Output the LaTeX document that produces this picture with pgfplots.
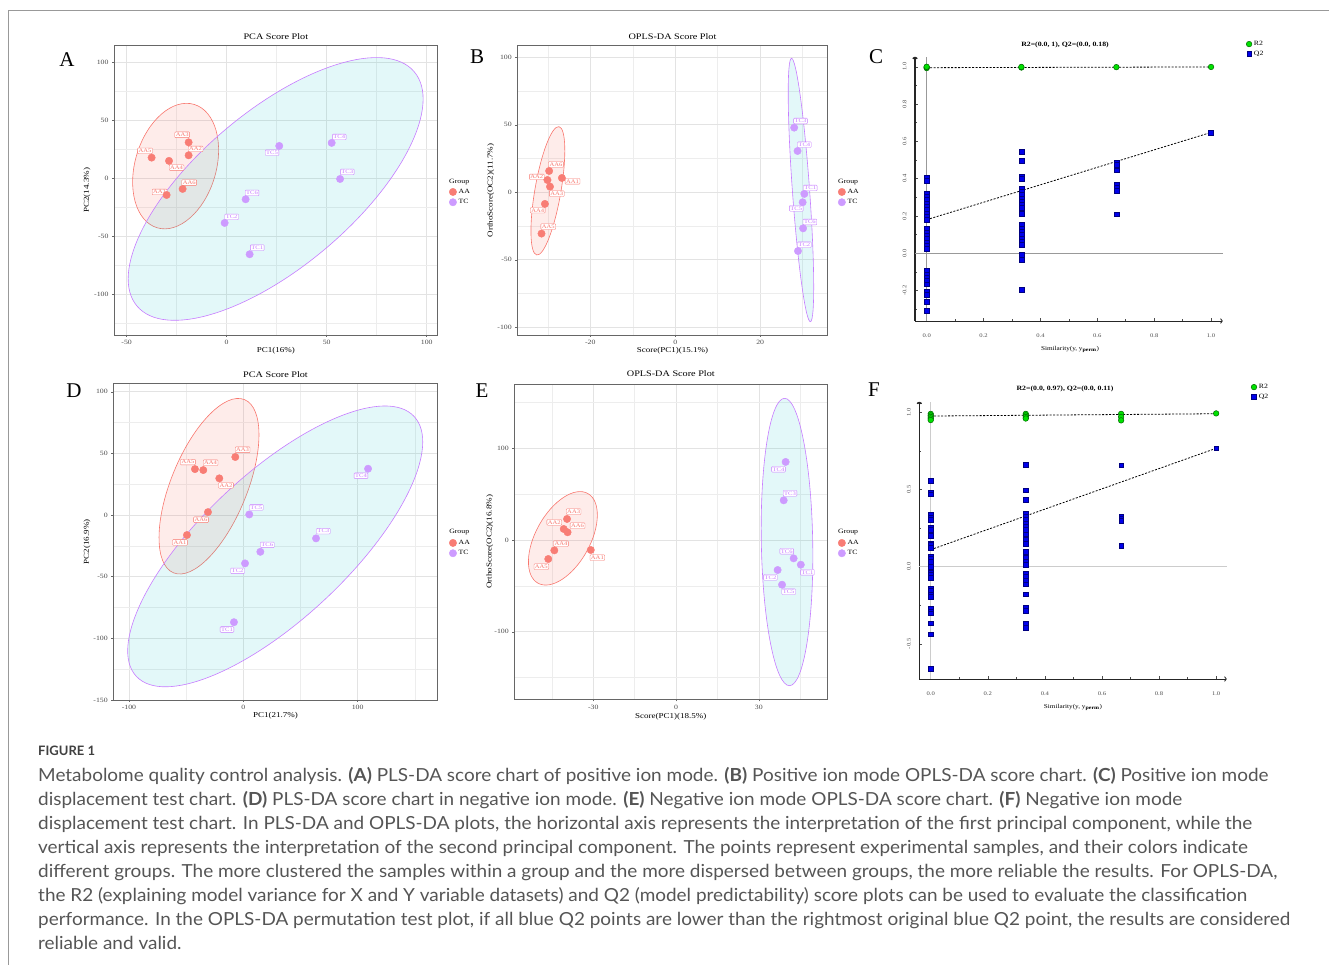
\documentclass[border=0pt]{standalone}
\usepackage{fontspec}
\setmainfont{Liberation Serif}[FakeStretch=1.2]
\newfontfamily\letterfont{Liberation Serif}
\newfontfamily\capfont{Lato}
\usepackage{graphicx}
\usepackage{pgfplots}
\pgfplotsset{compat=1.18}
\usetikzlibrary{shapes.geometric, arrows.meta}

\definecolor{aapt}{RGB}{248,125,117}
\definecolor{tcpt}{RGB}{205,155,255}
\definecolor{aaline}{RGB}{248,118,109}
\definecolor{tcline}{RGB}{199,124,255}
\definecolor{tcfill}{RGB}{0,191,196}
\definecolor{capgray}{RGB}{85,85,85}
\definecolor{capdark}{RGB}{64,64,64}
\definecolor{r2green}{RGB}{0,225,0}
\definecolor{q2blue}{RGB}{0,0,235}

\tikzset{
  lab/.style={draw=#1, text=#1, fill=white, rounded corners=0.8pt, inner sep=1pt,
    line width=0.35pt, font=\fontsize{5.5}{5.5}\selectfont},
  ell/.style n args={3}{ellipse, draw=#1, line width=0.6pt, fill=#2, fill opacity=#3,
    draw opacity=1, inner sep=0pt},
}

\pgfplotsset{
  score/.style={
    scale only axis, clip=false,
    axis line style={black!60, line width=0.9pt},
    tick pos=left, tick align=outside, major tick length=2pt, minor tick length=0pt,
    every tick/.style={black!60, line width=0.5pt},
    grid=both,
    major grid style={black!11, line width=0.7pt},
    minor grid style={black!7, line width=0.5pt},
    tick label style={font=\fontsize{6.5}{7}\selectfont, text=black!70},
    /pgf/number format/assume math mode=true,
    label style={font=\fontsize{7.5}{8}\selectfont, anchor=center},
    title style={font=\fontsize{8.5}{9}\selectfont, anchor=center, yshift=-6pt},
    legend style={draw=none, fill=none, anchor=north west, font=\fontsize{6.5}{7}\selectfont,
      inner sep=0pt, row sep=0.5pt, cells={anchor=west}},
    legend image code/.code={\draw[mark repeat=1,#1] plot coordinates {(3pt,0pt)};},
    aa/.style={only marks, mark=*, mark size=3.7pt, color=aapt},
    tc/.style={only marks, mark=*, mark size=3.7pt, color=tcpt},
  },
  perm/.style={
    scale only axis, clip=false,
    axis lines=left,
    x axis line style={black!85, line width=0.9pt, -{To[length=2.5pt]}},
    y axis line style={black!85, line width=1.6pt, -{To[length=2.5pt]}},
    tick align=inside, major tick length=2.5pt, minor tick length=1.5pt,
    every tick/.style={black!70, line width=0.5pt},
    tick label style={font=\fontsize{5.5}{6}\selectfont, text=black!70},
    /pgf/number format/assume math mode=true,
    /pgf/number format/.cd, fixed, fixed zerofill, precision=1, /pgfplots/.cd,
    xticklabel style={yshift=-9pt},
    yticklabel style={rotate=90, anchor=south, yshift=5pt},
    label style={font=\fontsize{6}{7}\selectfont, anchor=center},
    title style={font=\fontsize{6.5}{7}\selectfont\bfseries, anchor=center, yshift=-6pt},
    legend style={draw=none, fill=none, anchor=north west, font=\fontsize{6.5}{7}\selectfont,
      inner sep=0pt, row sep=0pt, cells={anchor=west}},
    legend image code/.code={\draw[mark repeat=1,#1] plot coordinates {(3pt,0pt)};},
    r2/.style={only marks, mark=*, mark size=2.8pt,
      mark options={fill=r2green, draw=black!60!green, line width=0.5pt}},
    q2/.style={only marks, mark=square*, mark size=2.4pt,
      mark options={fill=q2blue, draw=black!50!blue, line width=0.4pt}},
    reg/.style={black, line width=0.8pt, dash pattern=on 2pt off 1.5pt, forget plot},
  },
}

\newsavebox\capbox
\newcommand\capfmt{\capfont\fontsize{18}{24}\selectfont\color{capgray}}
\newcommand\capline[1]{\scalebox{\capsx}[1]{\capfmt #1}}

\begin{document}%
\sbox\capbox{\capfmt performance. In the OPLS-DA permutation test plot, if all blue Q2 points are lower than the rightmost original blue Q2 point, the results are considered}%
\pgfmathsetmacro\capsx{1252/\the\wd\capbox}%
\begin{tikzpicture}[x=1pt,y=1pt]
\useasboundingbox (0pt,0pt) rectangle (1329pt,965pt);
\draw[black!40, line width=0.8pt] (8pt,0pt) -- (8pt,955pt) -- (1329pt,955pt);

% ---------- A ----------
\begin{axis}[score, at={(114pt,630pt)}, anchor=south west, width=323.7pt, height=289.3pt,
  xmin=-56.3, xmax=105.5, ymin=-135.1, ymax=114.3,
  xtick={-50,0,50,100}, minor xtick={-25,25,75},
  ytick={-100,-50,0,50,100}, minor ytick={-125,-75,-25,25,75},
  title={PCA Score Plot}, title style={at={(0.5,1.030)}},
  xlabel={PC1(16\%)}, xlabel style={at={(0.5,-0.055)}},
  ylabel={PC2(14.3\%)}, ylabel style={at={(-0.083,0.5)}},
  legend style={at={(1.035,0.512)}}]
\addplot[aa] coordinates {(-37.5,17.8)(-28.8,15)(-19,31)(-19,19.8)(-22,-9.2)(-30,-14.4)};
\addplot[tc] coordinates {(26.3,27.9)(52.5,30.5)(56.7,-0.6)(9.5,-18.1)(-1,-38.5)(11.5,-65.5)};
\legend{AA,TC}
\node[ell={aaline}{aaline}{0.14}, minimum width=128.8pt, minimum height=81pt, rotate=73.3] at (axis cs:-25.5,10.5) {};
\node[ell={tcline}{tcfill}{0.11}, minimum width=363pt, minimum height=155.6pt, rotate=40.2] at (axis cs:24.5,-9.2) {};
\node[lab=aaline] at (axis cs:-22.2,37.5) {AA3};
\node[lab=aaline] at (axis cs:-15.5,25.3) {AA2};
\node[lab=aaline] at (axis cs:-40.8,23.6) {AA5};
\node[lab=aaline] at (axis cs:-25,9.2) {AA4};
\node[lab=aaline] at (axis cs:-18.7,-3.7) {AA6};
\node[lab=aaline] at (axis cs:-33.5,-11.8) {AA1};
\node[lab=tcline] at (axis cs:22.7,22.1) {TC5};
\node[lab=tcline] at (axis cs:56.3,35.6) {TC4};
\node[lab=tcline] at (axis cs:60.3,5.5) {TC3};
\node[lab=tcline] at (axis cs:12.7,-12.6) {TC6};
\node[lab=tcline] at (axis cs:2.5,-33.3) {TC2};
\node[lab=tcline] at (axis cs:15.3,-59.8) {TC1};
\node[anchor=base west, font=\fontsize{6.5}{7}\selectfont, inner sep=0pt] at (axis description cs:1.035,0.524) {Group};
\end{axis}

% ---------- B ----------
\begin{axis}[score, at={(517.3pt,630pt)}, anchor=south west, width=310.4pt, height=289.3pt,
  xmin=-37.2, xmax=35.9, ymin=-105.7, ymax=108.6,
  xtick={-20,0,20}, minor xtick={-30,-10,10,30},
  ytick={-100,-50,0,50,100}, minor ytick={-75,-25,25,75},
  title={OPLS-DA Score Plot}, title style={at={(0.5,1.030)}},
  xlabel={Score(PC1)(15.1\%)}, xlabel style={at={(0.5,-0.055)}},
  ylabel={OrthoScore(OC2)(11.7\%)}, ylabel style={at={(-0.085,0.5)}},
  legend style={at={(1.033,0.512)}}]
\addplot[aa] coordinates {(-29.7,15.8)(-30.1,9.1)(-26.7,10.6)(-29.5,4.2)(-30.7,-8.6)(-31.5,-30.6)};
\addplot[tc] coordinates {(28.0,47.9)(28.8,30.6)(30.4,-1.2)(30.0,-7.4)(30.1,-26.7)(28.9,-43.5)};
\legend{AA,TC}
\node[ell={aaline}{aaline}{0.14}, minimum width=130.2pt, minimum height=26pt, rotate=80.2] at (axis cs:-30.0,1.1) {};
\node[ell={tcline}{tcfill}{0.11}, minimum width=264pt, minimum height=17.2pt, rotate=94.1] at (axis cs:29.6,1.7) {};
\node[lab=aaline] at (axis cs:-28.1,20.7) {AA6};
\node[lab=aaline] at (axis cs:-32.6,11.4) {AA2};
\node[lab=aaline] at (axis cs:-24.2,8.1) {AA1};
\node[lab=aaline] at (axis cs:-27.9,-1.0) {AA3};
\node[lab=aaline] at (axis cs:-32.4,-13.3) {AA4};
\node[lab=aaline] at (axis cs:-29.9,-25.4) {AA5};
\node[lab=tcline] at (axis cs:29.5,52.8) {TC3};
\node[lab=tcline] at (axis cs:30.4,35.3) {TC4};
\node[lab=tcline] at (axis cs:31.8,3.2) {TC1};
\node[lab=tcline] at (axis cs:28.5,-11.9) {TC5};
\node[lab=tcline] at (axis cs:31.7,-22.0) {TC6};
\node[lab=tcline] at (axis cs:30.4,-38.8) {TC2};
\node[anchor=base west, font=\fontsize{6.5}{7}\selectfont, inner sep=0pt] at (axis description cs:1.033,0.524) {Group};
\end{axis}

% ---------- C ----------
\begin{axis}[perm, at={(915pt,644pt)}, anchor=south west, width=307.7pt, height=264.3pt,
  xmin=-0.041, xmax=1.041, ymin=-0.363, ymax=1.054,
  xtick={0,0.2,0.4,0.6,0.8,1}, minor xtick={0.1,0.3,0.5,0.7,0.9},
  ytick={-0.2,0,0.2,0.4,0.6,0.8,1}, minor ytick={-0.3,-0.1,0.1,0.3,0.5,0.7,0.9},
  title={R2=(0.0, 1), Q2=(0.0, 0.18)}, title style={at={(0.4875,1.044)}},
  xlabel={Similarity(y, y\textsubscript{\textbf{perm}})}, xlabel style={at={(0.504,-0.106)}},
  legend style={at={(1.076,1.067)}}]
\draw[black!40, line width=0.7pt] (axis cs:0,-0.363) -- (axis cs:0,1.054);
\draw[black!40, line width=0.7pt] (axis cs:-0.041,0) -- (axis cs:1.041,0);
\addplot[reg] coordinates {(0,0.995)(1,0.999)};
\addplot[reg] coordinates {(0,0.18)(1,0.648)};
\addplot[r2] coordinates {(0,0.993)(0,0.997)(0,1.0)(0.333,0.996)(0.333,0.999)(0.667,0.998)(1,0.999)};
\addplot[q2] coordinates {
 (0,0.405)(0,0.388)(0,0.321)(0,0.304)(0,0.286)(0,0.268)(0,0.25)(0,0.232)(0,0.214)
 (0,0.196)(0,0.179)(0,0.13)(0,0.113)(0,0.095)(0,0.077)(0,0.059)(0,0.041)(0,0.023)
 (0,-0.095)(0,-0.113)(0,-0.13)(0,-0.148)(0,-0.166)(0,-0.205)(0,-0.22)(0,-0.259)(0,-0.309)
 (0.333,0.545)(0.333,0.496)(0.333,0.411)(0.333,0.398)(0.333,0.348)(0.333,0.330)
 (0.333,0.313)(0.333,0.295)(0.333,0.277)(0.333,0.259)(0.333,0.245)(0.333,0.214)
 (0.333,0.152)(0.333,0.134)(0.333,0.116)(0.333,0.098)(0.333,0.080)(0.333,0.063)
 (0.333,0.045)(0.333,-0.009)(0.333,-0.036)(0.333,-0.196)
 (0.667,0.4875)(0.667,0.477)(0.667,0.445)(0.667,0.366)(0.667,0.352)(0.667,0.336)(0.667,0.209)
 (1,0.648)};
\legend{R2,Q2}
\end{axis}

% ---------- D ----------
\begin{axis}[score, at={(113.3pt,265pt)}, anchor=south west, width=324.4pt, height=316.7pt,
  xmin=-113.7, xmax=170, ymin=-150, ymax=106.9,
  xtick={-100,0,100}, minor xtick={-50,50,150},
  ytick={-150,-100,-50,0,50,100}, minor ytick={-125,-75,-25,25,75},
  title={PCA Score Plot}, title style={at={(0.5,1.029)}},
  xlabel={PC1(21.7\%)}, xlabel style={at={(0.5,-0.0505)}},
  ylabel={PC2(16.9\%)}, ylabel style={at={(-0.081,0.5)}},
  legend style={at={(1.035,0.512)}}]
\addplot[aa] coordinates {(-7.0,47.1)(-42.3,37.3)(-35.0,36.5)(-21.0,29.8)(-30.9,2.4)(-49.3,-16.2)};
\addplot[tc] coordinates {(109.1,37.6)(5.2,0.5)(63.6,-18.9)(14.9,-29.8)(1.5,-39.2)(-8.2,-86.9)};
\legend{AA,TC}
\node[ell={aaline}{aaline}{0.14}, minimum width=187.2pt, minimum height=76pt, rotate=67.7] at (axis cs:-30.0,23.4) {};
\node[ell={tcline}{tcfill}{0.11}, minimum width=380.4pt, minimum height=145.4pt, rotate=43.1] at (axis cs:27.9,-25.4) {};
\node[lab=aaline] at (axis cs:-0.6,53.0) {AA3};
\node[lab=aaline] at (axis cs:-48.4,43.0) {AA5};
\node[lab=aaline] at (axis cs:-28.6,42.5) {AA4};
\node[lab=aaline] at (axis cs:-15.2,24.1) {AA2};
\node[lab=aaline] at (axis cs:-37.0,-3.8) {AA6};
\node[lab=aaline] at (axis cs:-55.4,-22.2) {AA1};
\node[lab=tcline] at (axis cs:102.9,31.9) {TC4};
\node[lab=tcline] at (axis cs:11.4,6.2) {TC5};
\node[lab=tcline] at (axis cs:70.0,-13.0) {TC3};
\node[lab=tcline] at (axis cs:21.0,-24.1) {TC6};
\node[lab=tcline] at (axis cs:-5.0,-45.2) {TC2};
\node[lab=tcline] at (axis cs:-14.3,-92.8) {TC1};
\node[anchor=base west, font=\fontsize{6.5}{7}\selectfont, inner sep=0pt] at (axis description cs:1.035,0.526) {Group};
\end{axis}

% ---------- E ----------
\begin{axis}[score, at={(514.3pt,265.7pt)}, anchor=south west, width=313pt, height=315.3pt,
  xmin=-58.6, xmax=54.8, ymin=-173.5, ymax=169.9,
  xtick={-30,0,30}, minor xtick={-45,-15,15,45},
  ytick={-100,0,100}, minor ytick={-150,-50,50,150},
  title={OPLS-DA Score Plot}, title style={at={(0.5,1.032)}},
  xlabel={Score(PC1)(18.5\%)}, xlabel style={at={(0.5,-0.056)}},
  ylabel={OrthoScore(OC2)(16.8\%)}, ylabel style={at={(-0.078,0.5)}},
  legend style={at={(1.034,0.512)}}]
\addplot[aa] coordinates {(-39.5,22.9)(-40.7,12.0)(-39.3,8.4)(-44.1,-11.3)(-46.3,-20.7)(-30.9,-10.9)};
\addplot[tc] coordinates {(39.7,85.0)(39.0,43.2)(42.6,-20.0)(45.2,-26.9)(36.8,-32.7)(38.4,-48.7)};
\legend{AA,TC}
\node[ell={aaline}{aaline}{0.14}, minimum width=102.6pt, minimum height=54.4pt, rotate=60.9] at (axis cs:-41.0,1.8) {};
\node[ell={tcline}{tcfill}{0.11}, minimum width=287.4pt, minimum height=51.4pt, rotate=91.0] at (axis cs:40.2,-2.2) {};
\node[lab=aaline] at (axis cs:-37.1,30.9) {AA3};
\node[lab=aaline] at (axis cs:-44.1,19.2) {AA2};
\node[lab=aaline] at (axis cs:-35.7,15.6) {AA6};
\node[lab=aaline] at (axis cs:-41.7,-4.0) {AA4};
\node[lab=aaline] at (axis cs:-48.8,-29.0) {AA5};
\node[lab=aaline] at (axis cs:-28.5,-19.2) {AA1};
\node[lab=tcline] at (axis cs:37.1,77.0) {TC4};
\node[lab=tcline] at (axis cs:41.3,50.8) {TC3};
\node[lab=tcline] at (axis cs:40.1,-12.3) {TC6};
\node[lab=tcline] at (axis cs:47.6,-35.2) {TC1};
\node[lab=tcline] at (axis cs:34.2,-40.7) {TC2};
\node[lab=tcline] at (axis cs:40.8,-56.3) {TC5};
\node[anchor=base west, font=\fontsize{6.5}{7}\selectfont, inner sep=0pt] at (axis description cs:1.034,0.526) {Group};
\end{axis}

% ---------- F ----------
\begin{axis}[perm, at={(919.3pt,286pt)}, anchor=south west, width=307.4pt, height=277.3pt,
  xmin=-0.04, xmax=1.037, ymin=-0.728, ymax=1.069,
  xtick={0,0.2,0.4,0.6,0.8,1}, minor xtick={0.1,0.3,0.5,0.7,0.9},
  ytick={-0.5,0,0.5,1}, minor ytick={-0.25,0.25,0.75},
  title={R2=(0.0, 0.97), Q2=(0.0, 0.11)}, title style={at={(0.474,1.046)}},
  xlabel={Similarity(y, y\textsubscript{\textbf{perm}})}, xlabel style={at={(0.5,-0.101)}},
  legend style={at={(1.079,1.071)}}]
\draw[black!20, line width=1.5pt] (axis cs:0,-0.728) -- (axis cs:0,1.069);
\draw[black!20, line width=1.5pt] (axis cs:-0.04,0) -- (axis cs:1.037,0);
\addplot[reg] coordinates {(0,0.976)(1,0.991)};
\addplot[reg] coordinates {(0,0.11)(1,0.767)};
\addplot[r2] coordinates {(0,0.99)(0,0.98)(0,0.97)(0,0.96)(0,0.95)
 (0.333,0.99)(0.333,0.98)(0.333,0.97)(0.333,0.96)
 (0.667,0.99)(0.667,0.97)(0.667,0.948)(1,0.993)};
\addplot[q2] coordinates {
 (0,0.559)(0,0.482)(0,0.469)(0,0.335)(0,0.318)(0,0.302)(0,0.253)(0,0.238)(0,0.201)
 (0,0.151)(0,0.140)(0,0.123)(0,0.065)(0,0.050)(0,0.032)(0,0.0)(0,-0.037)(0,-0.054)
 (0,-0.071)(0,-0.140)(0,-0.158)(0,-0.184)(0,-0.194)(0,-0.274)(0,-0.292)(0,-0.302)
 (0,-0.367)(0,-0.438)(0,-0.663)
 (0.333,0.659)(0.333,0.495)(0.333,0.434)(0.333,0.346)(0.333,0.324)(0.333,0.302)
 (0.333,0.281)(0.333,0.259)(0.333,0.238)(0.333,0.210)(0.333,0.173)(0.333,0.151)
 (0.333,0.097)(0.333,0.058)(0.333,0.032)(0.333,0.011)(0.333,-0.043)(0.333,-0.065)
 (0.333,-0.093)(0.333,-0.114)(0.333,-0.179)(0.333,-0.266)(0.333,-0.287)(0.333,-0.367)
 (0.333,-0.395)
 (0.667,0.657)(0.667,0.324)(0.667,0.309)(0.667,0.296)(0.667,0.138)
 (1,0.767)};
\legend{R2,Q2}
\end{axis}

% panel letters
\node[font=\letterfont\fontsize{21}{21}\selectfont] at (67pt,905pt) {A};
\node[font=\letterfont\fontsize{21}{21}\selectfont] at (477pt,908pt) {B};
\node[font=\letterfont\fontsize{21}{21}\selectfont] at (876pt,908pt) {C};
\node[font=\letterfont\fontsize{21}{21}\selectfont] at (74pt,574pt) {D};
\node[font=\letterfont\fontsize{21}{21}\selectfont] at (482pt,574pt) {E};
\node[font=\letterfont\fontsize{21}{21}\selectfont] at (874pt,575pt) {F};

% caption
\node[anchor=base west, inner sep=0pt, font=\capfont\bfseries\fontsize{13}{13}\selectfont, text=capdark] at (38pt,209pt) {FIGURE 1};
\node[anchor=base west, inner sep=0pt] at (38pt,183pt) {\capline{Metabolome quality control analysis. \textbf{(A)} PLS-DA score chart of positive ion mode. \textbf{(B)} Positive ion mode OPLS-DA score chart. \textbf{(C)} Positive ion mode}};
\node[anchor=base west, inner sep=0pt] at (38pt,159pt) {\capline{displacement test chart. \textbf{(D)} PLS-DA score chart in negative ion mode. \textbf{(E)} Negative ion mode OPLS-DA score chart. \textbf{(F)} Negative ion mode}};
\node[anchor=base west, inner sep=0pt] at (38pt,135pt) {\capline{displacement test chart. In PLS-DA and OPLS-DA plots, the horizontal axis represents the interpretation of the first principal component, while the}};
\node[anchor=base west, inner sep=0pt] at (38pt,111pt) {\capline{vertical axis represents the interpretation of the second principal component. The points represent experimental samples, and their colors indicate}};
\node[anchor=base west, inner sep=0pt] at (38pt,87pt) {\capline{different groups. The more clustered the samples within a group and the more dispersed between groups, the more reliable the results. For OPLS-DA,}};
\node[anchor=base west, inner sep=0pt] at (38pt,63pt) {\capline{the R2 (explaining model variance for X and Y variable datasets) and Q2 (model predictability) score plots can be used to evaluate the classification}};
\node[anchor=base west, inner sep=0pt] at (38pt,39pt) {\capline{performance. In the OPLS-DA permutation test plot, if all blue Q2 points are lower than the rightmost original blue Q2 point, the results are considered}};
\node[anchor=base west, inner sep=0pt] at (38pt,15pt) {\capline{reliable and valid.}};
\end{tikzpicture}%
\end{document}
